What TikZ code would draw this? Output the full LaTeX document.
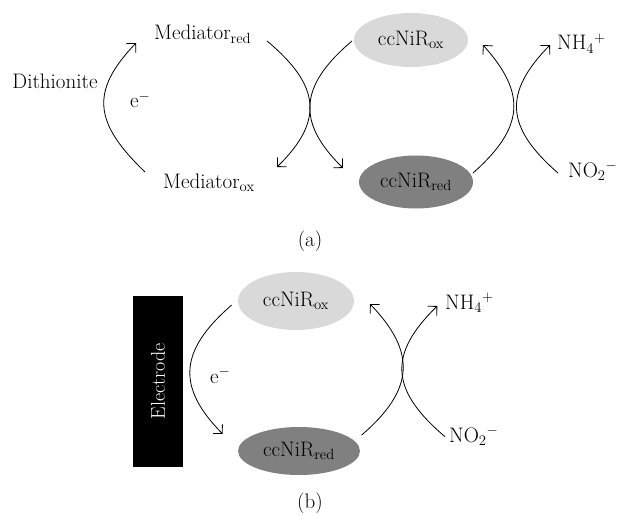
\documentclass[tikz,border=0pt]{standalone}
\usetikzlibrary{shapes.geometric,arrows.meta}
\begin{document}
\begin{tikzpicture}[x=1pt,y=-1pt,
  lbl/.style={font=\fontsize{21}{24}\selectfont,inner sep=0pt},
  enz/.style={ellipse,inner sep=0pt,font=\fontsize{21}{24}\selectfont},
  arr/.style={line width=0.8pt,-{Straight Barb[length=6.5pt,width=13pt,line width=0.8pt]}}]
\useasboundingbox (0,0) rectangle (621,516);
% ---------- panel (a)
\node[lbl] (dith) at (55,81) {Dithionite};
\node[lbl,anchor=base west] (medred) at (154,40) {Mediator\textsubscript{red}};
\node[lbl,anchor=base west] (medox) at (163,188) {Mediator\textsubscript{ox}};
\node[lbl,anchor=base west] (ea) at (130,108) {e$^-$};
\node[enz,fill=black!15,minimum width=114pt,minimum height=54pt] (oxa) at (411,40) {ccNiR\textsubscript{ox}};
\node[enz,fill=black!50,minimum width=114pt,minimum height=53pt] (reda) at (416,182) {ccNiR\textsubscript{red}};
\node[lbl,anchor=base west] (nh4a) at (557,50) {NH\textsubscript{4}\textsuperscript{+}};
\node[lbl,anchor=base west] (no2a) at (568,177) {NO\textsubscript{2}\textsuperscript{$-$}};
\node[lbl] (capa) at (310,241) {(a)};
\coordinate (a1s) at (145,172); \coordinate (a1e) at (136,43);
\coordinate (a2s) at (267,41);  \coordinate (a2e) at (277,167);
\coordinate (a3s) at (352,41);  \coordinate (a3e) at (343,168);
\coordinate (a4s) at (473,173); \coordinate (a4e) at (483,45);
\coordinate (a5s) at (558,173); \coordinate (a5e) at (550,45);
\draw[arr] (a1s) .. controls (94.2,123.2) and (89.5,91.6) .. (a1e);
\draw[arr] (a2s) .. controls (320.6,85.6) and (324.1,121.1) .. (a2e);
\draw[arr] (a3s) .. controls (299.2,85.6) and (296,122.1) .. (a3e);
\draw[arr] (a4s) .. controls (524.6,127.4) and (526.4,93.2) .. (a4e);
\draw[arr] (a5s) .. controls (505.1,127) and (503.3,92.7) .. (a5e);
% ---------- panel (b)
\node[fill=black,minimum width=50pt,minimum height=171pt,inner sep=0pt] (elec) at (158,381.5) {};
\node[lbl,font=\fontsize{20}{24}\selectfont,rotate=90,text=white] (electxt) at (elec.center) {Electrode};
\node[enz,fill=black!15,minimum width=116pt,minimum height=58pt] (oxb) at (296,301) {ccNiR\textsubscript{ox}};
\node[enz,fill=black!50,minimum width=122pt,minimum height=48pt] (redb) at (299,451) {ccNiR\textsubscript{red}};
\node[lbl,anchor=base west] (eb) at (210,383) {e$^-$};
\node[lbl,anchor=base west] (nh4b) at (445,309) {NH\textsubscript{4}\textsuperscript{+}};
\node[lbl,anchor=base west] (no2b) at (449,442) {NO\textsubscript{2}\textsuperscript{$-$}};
\node[lbl] (capb) at (310,503) {(b)};
\coordinate (b1s) at (231.7,305); \coordinate (b1e) at (222.7,434);
\coordinate (b2s) at (361.7,435); \coordinate (b2e) at (370,304);
\coordinate (b3s) at (445,436.7); \coordinate (b3e) at (437.3,306);
\draw[arr] (b1s) .. controls (179,350.6) and (176.3,386.9) .. (b1e);
\draw[arr] (b2s) .. controls (414.7,389.5) and (416.2,351.9) .. (b2e);
\draw[arr] (b3s) .. controls (390,390.1) and (387.9,354.1) .. (b3e);
\end{tikzpicture}
\end{document}
